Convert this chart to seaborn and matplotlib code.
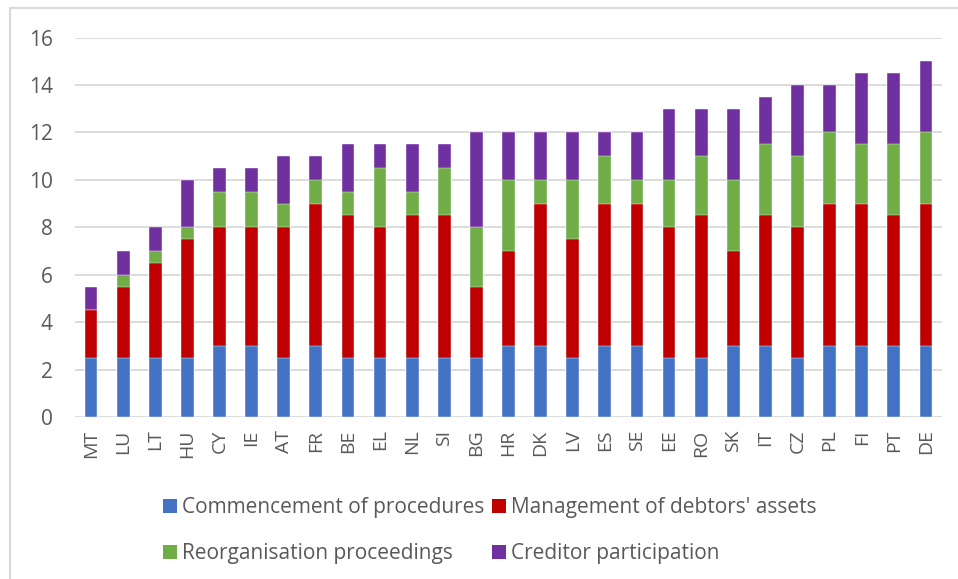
import matplotlib
matplotlib.use("Agg")
import matplotlib.pyplot as plt
from matplotlib.patches import Patch
from matplotlib.lines import Line2D
import numpy as np
import pandas as pd
import seaborn as sns

countries = ["MT", "LU", "LT", "HU", "CY", "IE", "AT", "FR", "BE", "EL", "NL", "SI", "BG", "HR",
             "DK", "LV", "ES", "SE", "EE", "RO", "SK", "IT", "CZ", "PL", "FI", "PT", "DE"]
commencement = [2.5, 2.5, 2.5, 2.5, 3, 3, 2.5, 3, 2.5, 2.5, 2.5, 2.5, 2.5, 3,
                3, 2.5, 3, 3, 2.5, 2.5, 3, 3, 2.5, 3, 3, 3, 3]
management = [2, 3, 4, 5, 5, 5, 5.5, 6, 6, 5.5, 6, 6, 3, 4,
              6, 5, 6, 6, 5.5, 6, 4, 5.5, 5.5, 6, 6, 5.5, 6]
reorganisation = [0, 0.5, 0.5, 0.5, 1.5, 1.5, 1, 1, 1, 2.5, 1, 2, 2.5, 3,
                  1, 2.5, 2, 1, 2, 2.5, 3, 3, 3, 3, 2.5, 3, 3]
creditor = [1, 1, 1, 2, 1, 1, 2, 1, 2, 1, 2, 1, 4, 2,
            2, 2, 1, 2, 3, 2, 3, 2, 3, 2, 3, 3, 3]

series_names = ["Commencement of procedures", "Management of debtors' assets",
                "Reorganisation proceedings", "Creditor participation"]
colors = ["#4472C4", "#C00000", "#70AD47", "#7030A0"]

df = pd.DataFrame({
    "country": countries,
    series_names[0]: commencement,
    series_names[1]: management,
    series_names[2]: reorganisation,
    series_names[3]: creditor,
})
cum = df[series_names].cumsum(axis=1)
cum["country"] = df["country"]

sns.set_theme(style="white")
plt.rcParams["font.family"] = ["Open Sans", "DejaVu Sans"]

text_grey = "#595959"
fig = plt.figure(figsize=(9.58, 5.79), dpi=100)
ax = fig.add_axes([75 / 958, 1 - 417 / 579, (942 - 75) / 958, (417 - 37.5) / 579])

# stacked bars: draw cumulative totals from the top segment down
for name, col in reversed(list(zip(series_names, colors))):
    sns.barplot(data=cum, x="country", y=name, color=col, width=0.4, ax=ax,
                saturation=1, edgecolor="white", linewidth=0.3, zorder=3)

ax.set_ylim(0, 16)
ax.set_xlim(-0.5, len(countries) - 0.5)
ax.set_yticks(np.arange(0, 17, 2))
ax.yaxis.grid(True, color="#D9D9D9", linewidth=1.3, zorder=0)
ax.set_axisbelow(True)
for s in ax.spines.values():
    s.set_visible(False)
ax.set_xlabel("")
ax.set_ylabel("")
ax.tick_params(axis="y", length=0, pad=16, labelsize=15, labelcolor=text_grey)
ax.tick_params(axis="x", length=0, pad=9, labelsize=14, labelcolor=text_grey, rotation=90)

# legend filled row by row: blue, red / green, purple
order = [0, 2, 1, 3]
handles = [Patch(facecolor=colors[i], edgecolor="none") for i in order]
labels = [series_names[i] for i in order]
fig.legend(handles, labels, loc="upper left", bbox_to_anchor=(163 / 958, 1 - 497 / 579),
           ncol=2, frameon=False, fontsize=15, labelcolor=text_grey,
           handlelength=0.65, handleheight=0.65, handletextpad=0.25, columnspacing=0.4,
           labelspacing=1.2, borderaxespad=0, borderpad=0)

# chart frame
fig.add_artist(Line2D([10 / 958, 10 / 958], [0, 1 - 8 / 579], color="#D9D9D9", linewidth=1.5,
                      transform=fig.transFigure))
fig.add_artist(Line2D([10 / 958, 1], [1 - 8 / 579, 1 - 8 / 579], color="#D9D9D9", linewidth=1.5,
                      transform=fig.transFigure))

fig.savefig("out.png", dpi=100)
